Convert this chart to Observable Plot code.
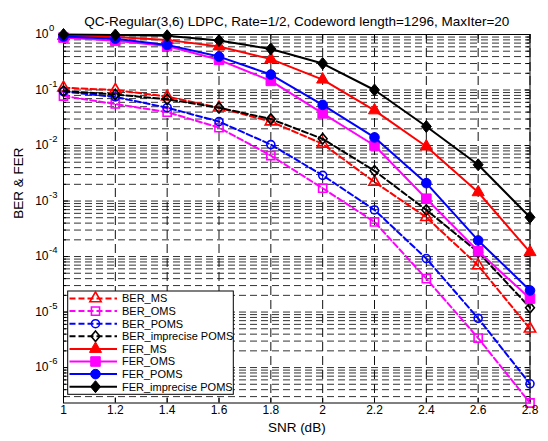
<!DOCTYPE html>
<html>
<head>
<meta charset="utf-8">
<script src="https://cdn.jsdelivr.net/npm/d3@7"></script>
<script src="https://cdn.jsdelivr.net/npm/@observablehq/plot@0.6"></script>
<style>
  html, body { margin: 0; padding: 0; background: #fff; }
  svg { display: block; }
</style>
</head>
<body>
<div id="chart"></div>
<script>
// ---- data ----
const snr = [1, 1.2, 1.4, 1.6, 1.8, 2.0, 2.2, 2.4, 2.6, 2.8];
const berMS      = [0.11, 0.10, 0.076, 0.048, 0.027, 0.0107, 0.0022, 5.1e-4, 6.9e-5, 5.0e-6];
const berOMS     = [0.078, 0.056, 0.040, 0.021, 0.0066, 0.0017, 4.2e-4, 4.0e-5, 3.4e-6, 2.3e-7];
const berPOMS    = [0.094, 0.075, 0.048, 0.027, 0.0104, 0.0029, 6.9e-4, 9.2e-5, 7.7e-6, 5.1e-7];
const berImpPOMS = [0.096, 0.083, 0.068, 0.048, 0.030, 0.0132, 0.0035, 6.9e-4, 1.2e-4, 1.2e-5];
const ferMS      = [0.94, 0.90, 0.80, 0.61, 0.36, 0.154, 0.043, 0.0096, 0.00144, 1.2e-4];
const ferOMS     = [0.88, 0.77, 0.62, 0.35, 0.146, 0.038, 0.010, 0.0011, 1.25e-4, 1.75e-5];
const ferPOMS    = [0.92, 0.84, 0.65, 0.40, 0.19, 0.054, 0.014, 0.0021, 1.95e-4, 2.45e-5];
const ferImpPOMS = [1.0, 0.98, 0.95, 0.78, 0.55, 0.30, 0.10, 0.022, 0.0045, 5.1e-4];
const seriesNames = ["BER_MS", "BER_OMS", "BER_POMS", "BER_imprecise POMS",
                     "FER_MS", "FER_OMS", "FER_POMS", "FER_imprecise POMS"];
const xTickLabels = ["1", "1.2", "1.4", "1.6", "1.8", "2", "2.2", "2.4", "2.6", "2.8"];
const decadeExps = [0, -1, -2, -3, -4, -5, -6];
const titleText = "QC-Regular(3,6) LDPC, Rate=1/2, Codeword length=1296, MaxIter=20";
const xLabel = "SNR (dB)";
const yLabel = "BER & FER";

// ---- styles ----
const diamondM = {
  draw(ctx, size) {
    const r = Math.sqrt(size / Math.PI);
    const w = r * 1.0, h = r * 1.2;
    ctx.moveTo(0, -h); ctx.lineTo(w, 0); ctx.lineTo(0, h); ctx.lineTo(-w, 0); ctx.closePath();
  }
};
const values = [berMS, berOMS, berPOMS, berImpPOMS, ferMS, ferOMS, ferPOMS, ferImpPOMS];
const styles = [
  {color: "#ff0000", dashed: true,  symbol: d3.symbolTriangle, filled: false, r: 4.2},
  {color: "#ff00ff", dashed: true,  symbol: d3.symbolSquare,   filled: false, r: 4.6},
  {color: "#0000ff", dashed: true,  symbol: d3.symbolCircle,   filled: false, r: 4.0},
  {color: "#000000", dashed: true,  symbol: diamondM,          filled: false, r: 4.4},
  {color: "#ff0000", dashed: false, symbol: d3.symbolTriangle, filled: true,  r: 4.5},
  {color: "#ff00ff", dashed: false, symbol: d3.symbolSquare,   filled: true,  r: 5.4},
  {color: "#0000ff", dashed: false, symbol: d3.symbolCircle,   filled: true,  r: 4.8},
  {color: "#000000", dashed: false, symbol: diamondM,          filled: true,  r: 5.0}
];

const W = 548, H = 441;
const mt = 34, mb = 38.5, ml = 63, mr = 18.5;
const fw = W - ml - mr, fh = H - mt - mb;

const all = values.flat();
const ymin = d3.min(all), ymax = d3.max(all);

// grid values (1..9 x 10^e inside domain)
const gridVals = [];
const minorVals = [];
for (let e = -7; e <= 0; e++) {
  for (let m = 1; m <= 9; m++) {
    const v = m * Math.pow(10, e);
    if (v >= ymin * 0.999 && v <= ymax * 1.001) { gridVals.push(v); if (m > 1) minorVals.push(v); }
  }
}
const decades = decadeExps.map(e => Math.pow(10, e));
const xTicks = snr.map((d, i) => ({x: d, label: xTickLabels[i]}));

const font = "Liberation Sans, Arial, Helvetica, sans-serif";

const marks = [
  Plot.ruleY(gridVals, {y: d => d, stroke: "#333", strokeWidth: 1, strokeDasharray: "7,4"}),
  Plot.ruleX(snr, {x: d => d, stroke: "#111", strokeWidth: 1, strokeDasharray: "9,5"}),
  // ticks (inside)
  Plot.ruleX(snr, {x: d => d, insetTop: fh - 5, stroke: "#000"}),
  Plot.ruleX(snr, {x: d => d, insetBottom: fh - 5, stroke: "#000"}),
  Plot.ruleY(decades.filter(d => d >= ymin), {y: d => d, insetRight: fw - 5, stroke: "#000"}),
  Plot.ruleY(decades.filter(d => d >= ymin), {y: d => d, insetLeft: fw - 5, stroke: "#000"}),
  Plot.ruleY(minorVals, {y: d => d, insetRight: fw - 3, stroke: "#000"}),
  Plot.ruleY(minorVals, {y: d => d, insetLeft: fw - 3, stroke: "#000"}),
  Plot.frame({stroke: "#000", strokeWidth: 1})
];

values.forEach((vals, i) => {
  const st = styles[i];
  const rows = snr.map((x, j) => ({x, y: vals[j]}));
  marks.push(Plot.line(rows, {x: "x", y: "y", stroke: st.color, strokeWidth: 2,
    strokeDasharray: st.dashed ? "6,3" : null}));
  marks.push(Plot.dot(rows, {x: "x", y: "y", symbol: st.symbol, r: st.r,
    stroke: st.color, strokeWidth: st.filled ? 1 : 1.6,
    fill: st.filled ? st.color : "none"}));
});

// axis labels
marks.push(
  Plot.text(xTicks, {x: "x", text: "label", frameAnchor: "bottom", dy: 11, fontSize: 12, fill: "#000"}),
  Plot.text(decades, {y: d => d, text: () => "10", frameAnchor: "left", dx: -15, textAnchor: "end", fontSize: 12, fill: "#000"}),
  Plot.text(decadeExps, {y: d => Math.pow(10, d), text: d => String(d), frameAnchor: "left", dx: -14.5, dy: -6.5, textAnchor: "start", fontSize: 9.5, fill: "#000"}),
  Plot.text([xLabel], {text: d => d, frameAnchor: "bottom", dy: 29, fontSize: 13.5, fill: "#000"}),
  Plot.text([yLabel], {text: d => d, frameAnchor: "left", dx: -45, rotate: -90, fontSize: 13.5, fill: "#000"}),
  Plot.text([titleText], {text: d => d, frameAnchor: "top", dy: -18, fontSize: 13.5, fill: "#000"})
);

const svg = Plot.plot({
  width: W, height: H,
  marginTop: mt, marginBottom: mb, marginLeft: ml, marginRight: mr,
  x: {domain: d3.extent(snr), axis: null},
  y: {type: "log", domain: [ymin, ymax], axis: null},
  style: {fontFamily: font, fontSize: "11.5px", background: "#fff", color: "#000", overflow: "visible"},
  marks
});

// legend (drawn into the same SVG)
const lg = d3.select(svg).append("g").attr("font-family", font).attr("font-size", 11)
  .attr("text-anchor", "start");
const box = {x0: 67.7, y0: 291, x1: 233.3, y1: 394.3};
lg.append("rect").attr("x", box.x0).attr("y", box.y0)
  .attr("width", box.x1 - box.x0).attr("height", box.y1 - box.y0)
  .attr("fill", "#fff").attr("stroke", "#000").attr("stroke-width", 1);
seriesNames.forEach((name, i) => {
  const st = styles[i];
  const y = 298.5 + i * 12.6;
  lg.append("line").attr("x1", 69.5).attr("x2", 117).attr("y1", y).attr("y2", y)
    .attr("stroke", st.color).attr("stroke-width", 2)
    .attr("stroke-dasharray", st.dashed ? "6,3" : null);
  lg.append("path").attr("transform", `translate(95.5,${y})`)
    .attr("d", d3.symbol(st.symbol, Math.PI * st.r * st.r)())
    .attr("stroke", st.color).attr("stroke-width", st.filled ? 1 : 1.6)
    .attr("fill", st.filled ? st.color : "none");
  lg.append("text").attr("x", 122).attr("y", y).attr("dy", "0.35em")
    .attr("text-anchor", "start").attr("fill", "#000").text(name);
});

document.getElementById("chart").appendChild(svg);
</script>
</body>
</html>
